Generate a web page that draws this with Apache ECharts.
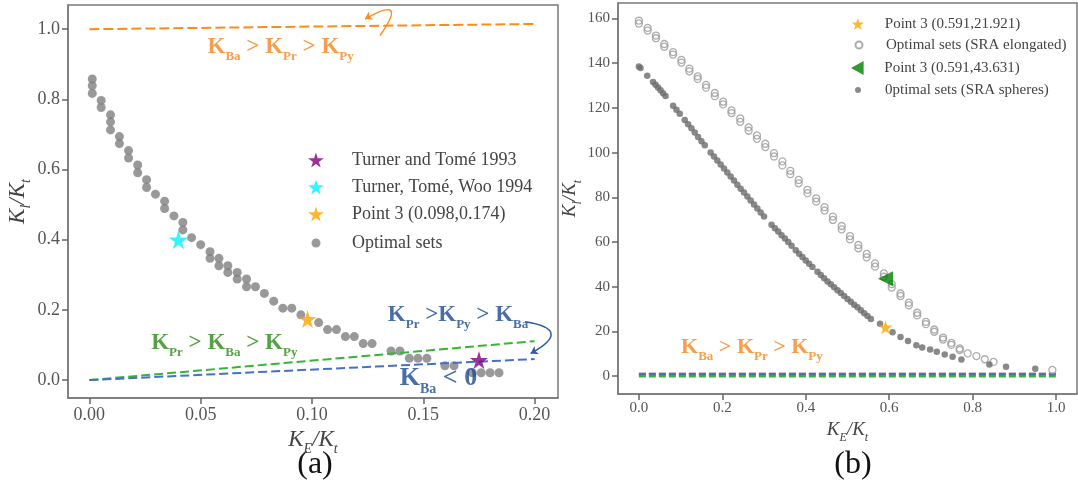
<!DOCTYPE html>
<html><head><meta charset="utf-8">
<script src="https://cdn.jsdelivr.net/npm/echarts@6/dist/echarts.min.js"></script>
<style>html,body{margin:0;padding:0;background:#fff}#c{width:1078px;height:486px}</style>
</head><body><div id="c"></div>
<script>
// ---------- data: panel (a) ----------
const leftXTicks = [0, 0.05, 0.10, 0.15, 0.20];
const leftYTicks = [0, 0.2, 0.4, 0.6, 0.8, 1.0];
const leftOptimal = [
  [0.0013,0.858],[0.0013,0.839],[0.0013,0.817],[0.0053,0.797],[0.0053,0.777],
  [0.0095,0.756],[0.0095,0.736],[0.0095,0.713],[0.0135,0.694],[0.0135,0.674],
  [0.0176,0.654],[0.0176,0.633],[0.0217,0.613],[0.0217,0.591],[0.0257,0.571],
  [0.0257,0.549],[0.0297,0.530],[0.0338,0.510],[0.0338,0.489],[0.0380,0.468],
  [0.0420,0.449],[0.0420,0.428],[0.0459,0.406],[0.0500,0.386],[0.0542,0.366],
  [0.0542,0.347],[0.0582,0.347],[0.0582,0.326],[0.0622,0.326],[0.0622,0.307],
  [0.0664,0.307],[0.0664,0.288],[0.0706,0.288],[0.0706,0.266],[0.0746,0.266],
  [0.0786,0.247],[0.0828,0.225],[0.0869,0.205],[0.0909,0.205],[0.0950,0.186],
  [0.1030,0.164],[0.1070,0.144],[0.1110,0.144],[0.1150,0.124],[0.1190,0.124],
  [0.1230,0.104],[0.1270,0.104],[0.1355,0.083],[0.1395,0.083],[0.1437,0.062],
  [0.1476,0.062],[0.1516,0.062],[0.1597,0.041],[0.1638,0.041],[0.1720,0.021],
  [0.1760,0.021],[0.1800,0.021],[0.1840,0.021]
];
const turner1993 = [[0.175, 0.057]];
const turner1994 = [[0.040, 0.400]];
const point3Left = [[0.098, 0.174]];
const leftOrangeLine = [[0, 1.0], [0.2, 1.015]];
const leftGreenLine = [[0, 0], [0.2, 0.111]];
const leftBlueLine = [[0, 0], [0.2, 0.060]];

// ---------- data: panel (b) ----------
const rightXTicks = [0, 0.2, 0.4, 0.6, 0.8, 1.0];
const rightYTicks = [0, 20, 40, 60, 80, 100, 120, 140, 160];
const elongated = [
  [0.000,159.1],[0.000,157.8],[0.021,155.8],[0.021,154.6],[0.041,152.4],[0.041,151.2],
  [0.061,148.6],[0.061,147.4],[0.082,145.0],[0.082,143.9],[0.102,141.5],[0.102,140.3],
  [0.121,137.6],[0.121,136.4],[0.141,134.1],[0.141,133.0],[0.161,130.3],[0.161,129.1],
  [0.182,126.7],[0.182,125.3],[0.202,122.8],[0.202,121.6],[0.222,118.9],[0.222,117.7],
  [0.243,115.3],[0.243,113.8],[0.263,111.3],[0.263,109.8],[0.283,107.7],[0.283,106.2],
  [0.303,104.0],[0.303,102.5],[0.324,99.8],[0.324,98.3],[0.344,96.1],[0.344,94.3],
  [0.363,91.9],[0.363,90.4],[0.383,87.8],[0.383,86.3],[0.404,83.4],[0.404,81.9],
  [0.425,79.6],[0.425,78.1],[0.445,75.6],[0.445,74.1],[0.465,71.4],[0.465,69.9],
  [0.486,67.2],[0.486,65.7],[0.506,62.7],[0.506,61.2],[0.526,58.7],[0.526,57.2],
  [0.546,54.7],[0.546,53.2],[0.566,50.5],[0.566,49.0],[0.587,46.0],[0.587,44.5],
  [0.606,41.2],[0.606,39.7],[0.627,37.0],[0.627,35.9],[0.647,32.9],[0.647,31.7],
  [0.667,28.4],[0.667,27.2],[0.688,24.3],[0.688,23.3],[0.708,20.9],[0.708,19.9],
  [0.729,17.3],[0.729,16.4],[0.749,14.9],[0.749,14.0],[0.769,12.4],[0.769,11.7],
  [0.788,10.2],[0.809,9.0],[0.829,7.6],[0.850,6.4],[0.991,2.8]
];
const spheres = [
  [0.000,138.6],[0.004,137.9],[0.020,134.4],[0.034,131.6],[0.040,130.4],[0.046,129.2],
  [0.052,127.9],[0.058,126.6],[0.064,125.3],[0.082,121.0],[0.090,119.2],[0.098,117.4],
  [0.110,114.6],[0.118,112.7],[0.126,110.9],[0.134,109.0],[0.142,107.0],[0.150,105.1],
  [0.158,103.3],[0.172,100.1],[0.180,98.3],[0.188,96.5],[0.196,94.7],[0.204,92.9],
  [0.212,91.1],[0.220,89.3],[0.228,87.5],[0.236,85.7],[0.244,83.9],[0.252,82.2],
  [0.260,80.4],[0.268,78.6],[0.276,76.8],[0.284,75.0],[0.292,73.2],[0.300,71.4],
  [0.318,67.8],[0.326,66.2],[0.334,64.7],[0.342,63.1],[0.350,61.6],[0.358,60.0],
  [0.366,58.4],[0.376,56.4],[0.384,54.8],[0.392,53.3],[0.400,51.8],[0.408,50.3],
  [0.416,48.9],[0.428,46.7],[0.436,45.3],[0.444,43.8],[0.452,42.4],[0.460,41.1],
  [0.468,39.8],[0.476,38.5],[0.484,37.2],[0.492,35.9],[0.500,34.6],[0.508,33.3],
  [0.516,32.0],[0.524,30.8],[0.532,29.5],[0.540,28.2],[0.548,26.9],[0.556,25.6],
  [0.578,23.5],[0.608,19.7],[0.627,17.6],[0.645,15.8],[0.665,13.9],[0.679,12.9],
  [0.698,11.9],[0.714,10.9],[0.733,9.7],[0.752,8.7],[0.773,7.5],[0.840,5.3],
  [0.880,4.2],[0.950,3.3]
];
const point3Sph = [[0.591, 21.921]];
const point3Elo = [[0.591, 43.631]];
const rightOrangeLine = [[0, 1.0], [1.0, 1.0]];
const rightGreenLine = [[0, 0], [1.0, 0]];
const rightBlueLine = [[0, 1.0], [1.0, 1.0]];

// ---------- styling helpers ----------
const SERIF = '"Liberation Serif", "Times New Roman", serif';
const STAR = 'path://M50,0 L61,35 L98,35 L68,57 L79,91 L50,70 L21,91 L32,57 L2,35 L39,35 Z';
const LEFT_TRI = 'path://M0,50 L90,0 L90,100 Z';
const FRAME = '#7a7a7a';
const TXT = '#444';

function kRich(color, size, sub) {
  return {
    m: {fontFamily: SERIF, fontWeight: 'bold', fontSize: size, lineHeight: size, color: color, verticalAlign: 'bottom', padding: [0, 0, 5, 0]},
    s: {fontFamily: SERIF, fontWeight: 'bold', fontSize: sub, lineHeight: sub, color: color, verticalAlign: 'bottom'}
  };
}
function nameRich(size, sub) {
  return {
    i: {fontFamily: SERIF, fontStyle: 'italic', fontSize: size, lineHeight: size, color: TXT, verticalAlign: 'bottom', padding: [0, 0, 4, 0]},
    s: {fontFamily: SERIF, fontStyle: 'italic', fontSize: sub, lineHeight: sub, color: TXT, verticalAlign: 'bottom'}
  };
}
function annot(xi, yi, pos, text, rich) {
  return {
    type: 'scatter', xAxisIndex: xi, yAxisIndex: yi, data: [pos], symbolSize: 1, silent: true,
    itemStyle: {color: 'rgba(0,0,0,0)'}, z: 6,
    label: {show: true, position: 'inside', formatter: text, rich: rich}
  };
}
function dashed(xi, yi, data, color, w, dash) {
  return {type: 'line', xAxisIndex: xi, yAxisIndex: yi, data: data, showSymbol: false, symbol: 'none', silent: true, z: 3,
    lineStyle: {color: color, width: w, type: dash}};
}
function arrow(xi, yi, from, to, curv, color) {
  return {type: 'lines', coordinateSystem: 'cartesian2d', xAxisIndex: xi, yAxisIndex: yi, silent: true, z: 6,
    symbol: ['none', 'arrow'], symbolSize: 7,
    lineStyle: {color: color, width: 1.5, curveness: curv, opacity: 1},
    data: [{coords: [from, to]}]};
}
function legendItem(name, cx, cy, w, h, fs, lh, textStart) {
  return {
    data: [name], orient: 'vertical', selectedMode: false, padding: 0,
    left: cx - w / 2, top: cy - Math.max(h, lh) / 2, itemWidth: w, itemHeight: h,
    textStyle: {fontFamily: SERIF, fontSize: fs, lineHeight: lh, color: TXT, padding: [0, 0, 0, textStart - (cx + w / 2) - 5]}
  };
}

const chart = echarts.init(document.getElementById('c'), null, {renderer: 'canvas'});
const axisCommon = {
  type: 'value', splitLine: {show: false},
  axisLine: {show: true, onZero: false, lineStyle: {color: FRAME, width: 1.5}},
  axisTick: {show: true, inside: false, length: 6, lineStyle: {color: '#666', width: 1.5}}
};

chart.setOption({
  backgroundColor: '#fff',
  animation: false,
  grid: [
    {left: 68, top: 5, width: 490, height: 393, show: true, borderColor: FRAME, borderWidth: 1.5, backgroundColor: 'rgba(0,0,0,0)'},
    {left: 618, top: 3, width: 459, height: 391, show: true, borderColor: FRAME, borderWidth: 1.5, backgroundColor: 'rgba(0,0,0,0)'}
  ],
  xAxis: [
    Object.assign({}, axisCommon, {gridIndex: 0, min: -0.0096, max: 0.2105,
      axisTick: Object.assign({}, axisCommon.axisTick, {customValues: leftXTicks}),
      axisLabel: {customValues: leftXTicks, formatter: v => v.toFixed(2), fontFamily: SERIF, fontSize: 18, color: '#555', margin: 8},
      name: '{i|K}{s|E}{i|/K}{s|t}', nameLocation: 'middle', nameGap: 26,
      nameTextStyle: {rich: nameRich(23, 14)}}),
    Object.assign({}, axisCommon, {gridIndex: 1, min: -0.05, max: 1.05,
      axisTick: Object.assign({}, axisCommon.axisTick, {customValues: rightXTicks}),
      axisLabel: {customValues: rightXTicks, formatter: v => v.toFixed(1), fontFamily: SERIF, fontSize: 15, color: '#555', margin: 7},
      name: '{i|K}{s|E}{i|/K}{s|t}', nameLocation: 'middle', nameGap: 21,
      nameTextStyle: {rich: nameRich(19, 12)}})
  ],
  yAxis: [
    Object.assign({}, axisCommon, {gridIndex: 0, min: -0.051, max: 1.069,
      axisTick: Object.assign({}, axisCommon.axisTick, {customValues: leftYTicks}),
      axisLabel: {customValues: leftYTicks, formatter: v => v.toFixed(1), fontFamily: SERIF, fontSize: 18, color: '#555', margin: 8},
      name: '{i|K}{s|l}{i|/K}{s|t}', nameLocation: 'middle', nameGap: 33, nameRotate: 90,
      nameTextStyle: {rich: nameRich(23, 14)}}),
    Object.assign({}, axisCommon, {gridIndex: 1, min: -7.95, max: 166.95,
      axisTick: Object.assign({}, axisCommon.axisTick, {customValues: rightYTicks}),
      axisLabel: {customValues: rightYTicks, formatter: v => String(v), fontFamily: SERIF, fontSize: 15, color: '#555', margin: 8},
      name: '{i|K}{s|l}{i|/K}{s|t}', nameLocation: 'middle', nameGap: 20, nameRotate: 90,
      nameTextStyle: {rich: nameRich(19, 12)}})
  ],
  legend: [
    legendItem('Turner and Tomé 1993', 316, 160, 16, 15, 18, 20, 352),
    legendItem('Turner, Tomé, Woo 1994', 316, 187, 16, 15, 18, 20, 352),
    legendItem('Point 3 (0.098,0.174)', 316, 214, 16, 15, 18, 20, 352),
    legendItem('Optimal sets', 316, 243, 9, 9, 18, 20, 352),
    legendItem('Point 3 (0.591,21.921)', 858, 24, 13, 12, 15, 17, 885),
    legendItem('Optimal sets (SRA elongated)', 858, 45, 7, 7, 15, 17, 885),
    legendItem('Point 3 (0.591,43.631)', 858, 68, 14, 14, 15, 17, 885),
    legendItem('0ptimal sets (SRA spheres)', 858, 90, 6, 6, 15, 17, 885)
  ],
  graphic: [
    {type: 'text', x: 315, y: 465, style: {text: '(a)', fontFamily: SERIF, fontSize: 32, fill: '#111', align: 'center', verticalAlign: 'middle'}},
    {type: 'text', x: 853, y: 465, style: {text: '(b)', fontFamily: SERIF, fontSize: 32, fill: '#111', align: 'center', verticalAlign: 'middle'}}
  ],
  series: [
    // panel (a)
    {name: 'Optimal sets', type: 'scatter', xAxisIndex: 0, yAxisIndex: 0, data: leftOptimal, symbol: 'circle', symbolSize: 9,
      itemStyle: {color: '#808080'}, z: 2},
    dashed(0, 0, leftOrangeLine, '#ff8a1c', 2, [10, 4]),
    dashed(0, 0, leftGreenLine, '#36b536', 2, [9, 4]),
    dashed(0, 0, leftBlueLine, '#4670c8', 2, [9, 4]),
    {name: 'Turner and Tomé 1993', type: 'scatter', xAxisIndex: 0, yAxisIndex: 0, data: turner1993, symbol: STAR, symbolSize: 18,
      itemStyle: {color: '#800080'}, z: 5},
    {name: 'Turner, Tomé, Woo 1994', type: 'scatter', xAxisIndex: 0, yAxisIndex: 0, data: turner1994, symbol: STAR, symbolSize: 19,
      itemStyle: {color: '#00f2ff'}, z: 5},
    {name: 'Point 3 (0.098,0.174)', type: 'scatter', xAxisIndex: 0, yAxisIndex: 0, data: point3Left, symbol: STAR, symbolSize: 18,
      itemStyle: {color: '#ffa500'}, z: 5},
    annot(0, 0, [0.0859, 0.936], '{m|K}{s|Ba}{m| > K}{s|Pr}{m| > K}{s|Py}', kRich('#f5841f', 23, 13)),
    annot(0, 0, [0.0606, 0.092], '{m|K}{s|Pr}{m| > K}{s|Ba}{m| > K}{s|Py}', kRich('#2a8a18', 23, 13)),
    annot(0, 0, [0.1656, 0.172], '{m|K}{s|Pr}{m| >K}{s|Py}{m| > K}{s|Ba}', kRich('#1a4a92', 23, 13)),
    annot(0, 0, [0.1568, -0.008], '{m|K}{s|Ba}{m| < 0}', kRich('#1a4a92', 26, 14)),
    arrow(0, 0, [0.1306, 0.982], [0.1238, 1.029], -2.2, '#ff8a1c'),
    arrow(0, 0, [0.1957, 0.166], [0.1982, 0.076], 1.47, '#2a5aa8'),
    // panel (b)
    dashed(1, 1, rightOrangeLine, '#ff8a1c', 2.5, [7, 3]),
    dashed(1, 1, rightGreenLine, '#36b536', 2.5, [7, 3]),
    dashed(1, 1, rightBlueLine, '#4670c8', 2.5, [7, 3]),
    {name: 'Optimal sets (SRA elongated)', type: 'scatter', xAxisIndex: 1, yAxisIndex: 1, data: elongated, symbol: 'circle', symbolSize: 7,
      itemStyle: {color: 'rgba(255,255,255,0)', borderColor: '#9a9a9a', borderWidth: 1.3}, z: 4},
    {name: '0ptimal sets (SRA spheres)', type: 'scatter', xAxisIndex: 1, yAxisIndex: 1, data: spheres, symbol: 'circle', symbolSize: 6.5,
      itemStyle: {color: '#6c6c6c'}, z: 4},
    {name: 'Point 3 (0.591,21.921)', type: 'scatter', xAxisIndex: 1, yAxisIndex: 1, data: point3Sph, symbol: STAR, symbolSize: 14,
      itemStyle: {color: '#ffa500'}, z: 5},
    {name: 'Point 3 (0.591,43.631)', type: 'scatter', xAxisIndex: 1, yAxisIndex: 1, data: point3Elo, symbol: LEFT_TRI, symbolSize: 15,
      itemStyle: {color: '#008000'}, z: 5},
    annot(1, 1, [0.271, 10.6], '{m|K}{s|Ba}{m| > K}{s|Pr}{m| > K}{s|Py}', kRich('#f5841f', 22, 13))
  ]
});
</script>
</body></html>
